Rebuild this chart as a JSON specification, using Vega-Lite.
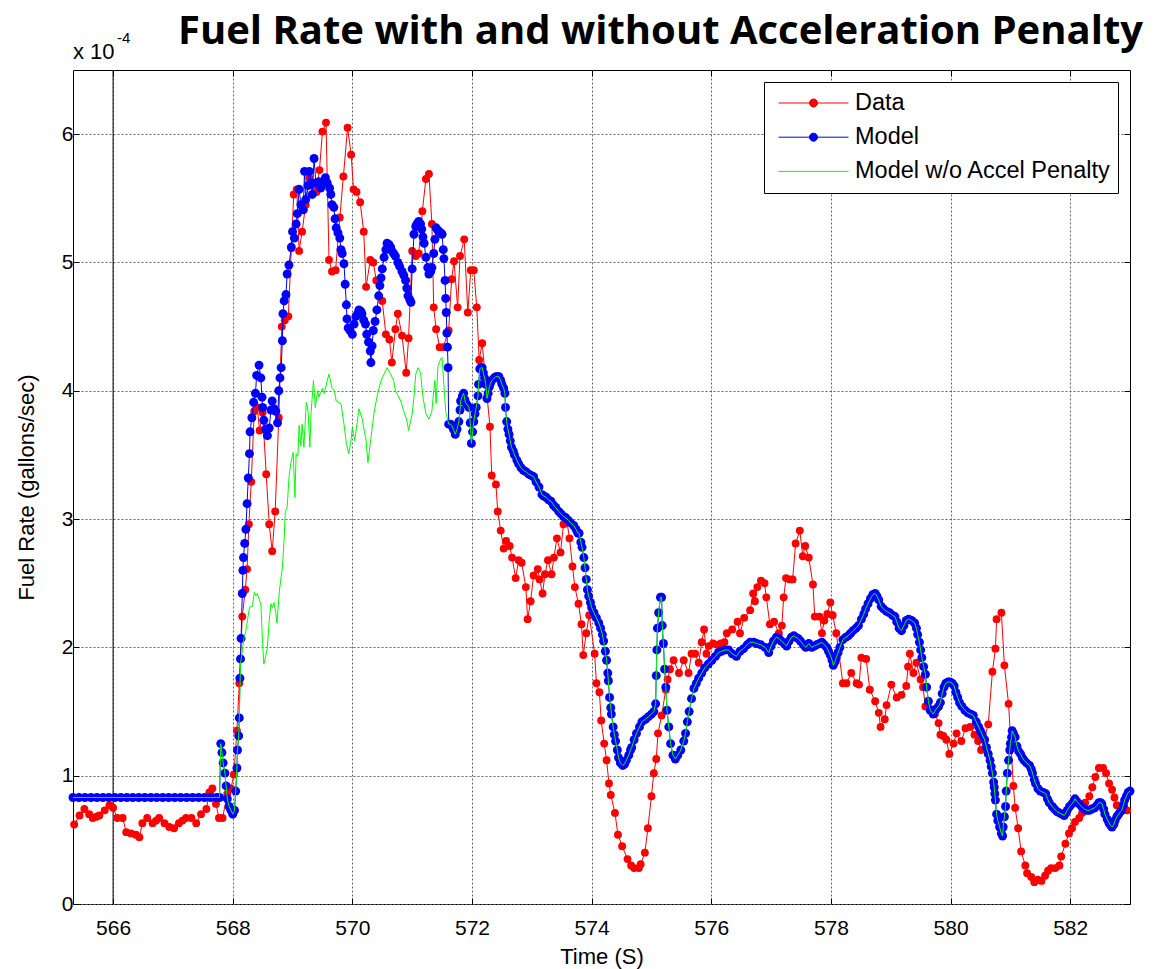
{
"$schema": "https://vega.github.io/schema/vega-lite/v6.json",
"width": 1057, "height": 834,
"autosize": {"type": "none"},
"padding": {"left": 73, "top": 70, "right": 31, "bottom": 65},
"background": "white",
"title": {"text": "Fuel Rate with and without Acceleration Penalty", "anchor": "end", "frame": "group", "font": "Open Sans", "fontSize": 40, "fontWeight": "bold", "color": "black", "offset": -53, "dx": 13, "baseline": "alphabetic"},
"config": {
 "view": {"stroke": "black", "strokeWidth": 1},
 "axis": {"labelFont": "Liberation Sans", "labelFontSize": 21, "labelColor": "black", "titleFont": "Liberation Sans", "titleFontSize": 22, "titleFontWeight": "normal", "titleColor": "black", "tickColor": "black", "tickSize": -6, "domain": false, "gridColor": "#666666", "gridDash": [2, 2], "gridOpacity": 1, "gridWidth": 1},
 "legend": {"orient": "top-right", "offset": 12, "padding": 6, "strokeColor": "black", "fillColor": "white", "symbolSize": 4900, "symbolStrokeWidth": 1, "clipHeight": 30, "rowPadding": 4.2, "labelFont": "Liberation Sans", "labelFontSize": 23.5, "labelColor": "black", "labelOffset": 6, "symbolOffset": 8, "labelLimit": 400, "cornerRadius": 0}
},
"datasets": {
"data": [
{"t":565.35,"v":0.62},{"t":565.44,"v":0.69},{"t":565.52,"v":0.74},{"t":565.60,"v":0.70},{"t":565.66,"v":0.67},{"t":565.72,"v":0.68},{"t":565.77,"v":0.69},{"t":565.86,"v":0.73},{"t":565.94,"v":0.77},{"t":566.00,"v":0.75},
{"t":566.07,"v":0.67},{"t":566.16,"v":0.67},{"t":566.22,"v":0.56},{"t":566.30,"v":0.55},{"t":566.38,"v":0.54},{"t":566.44,"v":0.52},{"t":566.49,"v":0.63},{"t":566.57,"v":0.67},{"t":566.66,"v":0.63},{"t":566.72,"v":0.65},
{"t":566.77,"v":0.67},{"t":566.86,"v":0.63},{"t":566.94,"v":0.60},{"t":567.02,"v":0.59},{"t":567.10,"v":0.63},{"t":567.16,"v":0.65},{"t":567.22,"v":0.67},{"t":567.31,"v":0.67},{"t":567.39,"v":0.63},{"t":567.47,"v":0.70},
{"t":567.56,"v":0.74},{"t":567.61,"v":0.87},{"t":567.66,"v":0.90},{"t":567.72,"v":0.78},{"t":567.77,"v":0.67},{"t":567.83,"v":0.67},{"t":567.91,"v":0.86},{"t":567.97,"v":0.90},{"t":568.02,"v":1.01},{"t":568.07,"v":1.35},
{"t":568.11,"v":1.72},{"t":568.16,"v":2.24},{"t":568.21,"v":2.45},{"t":568.24,"v":2.61},{"t":568.27,"v":2.96},{"t":568.31,"v":3.29},{"t":568.36,"v":3.84},{"t":568.41,"v":3.87},{"t":568.45,"v":3.69},{"t":568.50,"v":3.83},
{"t":568.56,"v":3.35},{"t":568.61,"v":2.96},{"t":568.66,"v":2.75},{"t":568.71,"v":3.06},{"t":568.77,"v":3.79},{"t":568.82,"v":4.50},{"t":568.87,"v":4.55},{"t":568.93,"v":4.58},{"t":568.98,"v":5.11},{"t":569.02,"v":5.53},
{"t":569.07,"v":5.57},{"t":569.11,"v":5.09},{"t":569.16,"v":5.24},{"t":569.22,"v":5.45},{"t":569.28,"v":5.66},{"t":569.34,"v":5.60},{"t":569.40,"v":5.55},{"t":569.45,"v":5.72},{"t":569.50,"v":6.02},{"t":569.56,"v":6.09},
{"t":569.61,"v":5.02},{"t":569.66,"v":4.93},{"t":569.72,"v":4.94},{"t":569.79,"v":5.35},{"t":569.85,"v":5.67},{"t":569.92,"v":6.05},{"t":569.98,"v":5.84},{"t":570.02,"v":5.57},{"t":570.07,"v":5.55},{"t":570.13,"v":5.47},
{"t":570.19,"v":5.24},{"t":570.23,"v":4.81},{"t":570.30,"v":5.02},{"t":570.35,"v":5.00},{"t":570.40,"v":4.86},{"t":570.50,"v":4.70},{"t":570.56,"v":4.44},{"t":570.62,"v":4.40},{"t":570.66,"v":4.22},{"t":570.72,"v":4.48},
{"t":570.76,"v":4.60},{"t":570.83,"v":4.43},{"t":570.90,"v":4.14},{"t":570.94,"v":4.41},{"t":571.00,"v":5.09},{"t":571.06,"v":5.05},{"t":571.11,"v":5.07},{"t":571.17,"v":5.40},{"t":571.23,"v":5.65},{"t":571.28,"v":5.69},
{"t":571.33,"v":5.30},{"t":571.36,"v":4.65},{"t":571.40,"v":4.48},{"t":571.46,"v":4.34},{"t":571.52,"v":4.34},{"t":571.61,"v":4.47},{"t":571.66,"v":4.87},{"t":571.70,"v":5.01},{"t":571.76,"v":4.65},{"t":571.80,"v":5.05},
{"t":571.87,"v":5.18},{"t":571.93,"v":4.61},{"t":571.98,"v":4.94},{"t":572.03,"v":4.94},{"t":572.08,"v":4.65},{"t":572.12,"v":4.24},{"t":572.17,"v":4.37},{"t":572.30,"v":3.72},{"t":572.33,"v":3.34},{"t":572.40,"v":3.27},
{"t":572.43,"v":3.06},{"t":572.48,"v":2.91},{"t":572.53,"v":2.77},{"t":572.57,"v":2.83},{"t":572.63,"v":2.79},{"t":572.67,"v":2.70},{"t":572.73,"v":2.54},{"t":572.78,"v":2.68},{"t":572.83,"v":2.66},{"t":572.90,"v":2.47},
{"t":572.93,"v":2.22},{"t":572.98,"v":2.36},{"t":573.03,"v":2.56},{"t":573.10,"v":2.61},{"t":573.13,"v":2.53},{"t":573.18,"v":2.42},{"t":573.22,"v":2.57},{"t":573.27,"v":2.68},{"t":573.33,"v":2.57},{"t":573.37,"v":2.70},
{"t":573.42,"v":2.85},{"t":573.48,"v":2.74},{"t":573.53,"v":2.96},{"t":573.58,"v":3.00},{"t":573.63,"v":2.85},{"t":573.68,"v":2.63},{"t":573.72,"v":2.47},{"t":573.78,"v":2.34},{"t":573.83,"v":2.18},{"t":573.86,"v":1.94},
{"t":573.91,"v":2.11},{"t":573.96,"v":2.25},{"t":574.05,"v":1.95},{"t":574.08,"v":1.72},{"t":574.13,"v":1.65},{"t":574.16,"v":1.43},{"t":574.21,"v":1.25},{"t":574.25,"v":1.12},{"t":574.29,"v":0.94},{"t":574.32,"v":0.85},
{"t":574.39,"v":0.71},{"t":574.44,"v":0.54},{"t":574.51,"v":0.45},{"t":574.60,"v":0.35},{"t":574.66,"v":0.30},{"t":574.71,"v":0.28},{"t":574.79,"v":0.28},{"t":574.82,"v":0.31},{"t":574.89,"v":0.40},{"t":574.94,"v":0.59},
{"t":575.00,"v":0.84},{"t":575.04,"v":1.02},{"t":575.08,"v":1.13},{"t":575.11,"v":1.33},{"t":575.17,"v":1.47},{"t":575.24,"v":1.67},{"t":575.27,"v":1.75},{"t":575.31,"v":1.83},{"t":575.37,"v":1.90},{"t":575.46,"v":1.80},
{"t":575.54,"v":1.90},{"t":575.62,"v":1.80},{"t":575.67,"v":1.95},{"t":575.73,"v":1.95},{"t":575.79,"v":1.88},{"t":575.84,"v":2.04},{"t":575.88,"v":2.14},{"t":575.92,"v":1.95},{"t":575.96,"v":2.01},{"t":576.03,"v":2.03},
{"t":576.10,"v":2.02},{"t":576.16,"v":2.03},{"t":576.22,"v":2.04},{"t":576.26,"v":2.11},{"t":576.35,"v":2.14},{"t":576.44,"v":2.20},{"t":576.48,"v":2.11},{"t":576.55,"v":2.23},{"t":576.65,"v":2.29},{"t":576.70,"v":2.42},
{"t":576.73,"v":2.36},{"t":576.77,"v":2.47},{"t":576.83,"v":2.52},{"t":576.89,"v":2.50},{"t":576.92,"v":2.39},{"t":576.98,"v":2.18},{"t":577.05,"v":2.20},{"t":577.13,"v":2.11},{"t":577.18,"v":2.17},{"t":577.21,"v":2.39},
{"t":577.25,"v":2.54},{"t":577.31,"v":2.53},{"t":577.36,"v":2.53},{"t":577.41,"v":2.81},{"t":577.48,"v":2.91},{"t":577.53,"v":2.71},{"t":577.57,"v":2.79},{"t":577.63,"v":2.70},{"t":577.70,"v":2.49},{"t":577.73,"v":2.24},
{"t":577.81,"v":2.24},{"t":577.85,"v":2.11},{"t":577.89,"v":2.21},{"t":577.94,"v":2.26},{"t":577.99,"v":2.35},{"t":578.03,"v":2.25},{"t":578.09,"v":2.11},{"t":578.20,"v":1.72},{"t":578.26,"v":1.72},{"t":578.34,"v":1.80},
{"t":578.43,"v":1.72},{"t":578.47,"v":1.71},{"t":578.51,"v":1.92},{"t":578.59,"v":1.91},{"t":578.65,"v":1.67},{"t":578.74,"v":1.58},{"t":578.80,"v":1.49},{"t":578.83,"v":1.38},{"t":578.90,"v":1.44},{"t":578.93,"v":1.55},
{"t":579.01,"v":1.71},{"t":579.10,"v":1.61},{"t":579.18,"v":1.63},{"t":579.26,"v":1.70},{"t":579.29,"v":1.85},{"t":579.32,"v":1.95},{"t":579.38,"v":1.80},{"t":579.43,"v":1.88},{"t":579.50,"v":1.75},{"t":579.54,"v":1.69},
{"t":579.58,"v":1.54},{"t":579.66,"v":1.52},{"t":579.74,"v":1.48},{"t":579.80,"v":1.41},{"t":579.83,"v":1.32},{"t":579.88,"v":1.31},{"t":579.93,"v":1.28},{"t":579.98,"v":1.17},{"t":580.05,"v":1.25},{"t":580.10,"v":1.33},
{"t":580.18,"v":1.27},{"t":580.25,"v":1.37},{"t":580.33,"v":1.38},{"t":580.40,"v":1.32},{"t":580.46,"v":1.27},{"t":580.51,"v":1.20},{"t":580.63,"v":1.40},{"t":580.70,"v":1.81},{"t":580.75,"v":1.99},{"t":580.77,"v":2.22},
{"t":580.85,"v":2.27},{"t":580.90,"v":1.86},{"t":580.97,"v":1.56},{"t":581.05,"v":0.92},{"t":581.08,"v":0.75},{"t":581.13,"v":0.59},{"t":581.18,"v":0.41},{"t":581.25,"v":0.30},{"t":581.28,"v":0.24},{"t":581.35,"v":0.21},
{"t":581.40,"v":0.17},{"t":581.46,"v":0.19},{"t":581.52,"v":0.18},{"t":581.58,"v":0.22},{"t":581.63,"v":0.26},{"t":581.68,"v":0.28},{"t":581.75,"v":0.28},{"t":581.82,"v":0.30},{"t":581.85,"v":0.37},{"t":581.92,"v":0.47},
{"t":581.98,"v":0.55},{"t":582.03,"v":0.59},{"t":582.08,"v":0.64},{"t":582.15,"v":0.67},{"t":582.20,"v":0.71},{"t":582.25,"v":0.79},{"t":582.32,"v":0.84},{"t":582.37,"v":0.91},{"t":582.42,"v":0.99},{"t":582.48,"v":1.06},
{"t":582.55,"v":1.06},{"t":582.60,"v":1.02},{"t":582.65,"v":0.94},{"t":582.70,"v":0.89},{"t":582.74,"v":0.83},{"t":582.78,"v":0.77},{"t":582.85,"v":0.75},{"t":582.90,"v":0.74},{"t":582.95,"v":0.73}
],
"model": [
{"t":565.33,"v":0.83,"s":"b"},{"t":565.43,"v":0.83,"s":"b"},{"t":565.53,"v":0.83,"s":"b"},{"t":565.63,"v":0.83,"s":"b"},{"t":565.73,"v":0.83,"s":"b"},{"t":565.83,"v":0.83,"s":"b"},{"t":565.93,"v":0.83,"s":"b"},{"t":566.03,"v":0.83,"s":"b"},{"t":566.13,"v":0.83,"s":"b"},{"t":566.23,"v":0.83,"s":"b"},
{"t":566.33,"v":0.83,"s":"b"},{"t":566.43,"v":0.83,"s":"b"},{"t":566.53,"v":0.83,"s":"b"},{"t":566.63,"v":0.83,"s":"b"},{"t":566.73,"v":0.83,"s":"b"},{"t":566.83,"v":0.83,"s":"b"},{"t":566.93,"v":0.83,"s":"b"},{"t":567.03,"v":0.83,"s":"b"},{"t":567.13,"v":0.83,"s":"b"},{"t":567.23,"v":0.83,"s":"b"},
{"t":567.33,"v":0.83,"s":"b"},{"t":567.43,"v":0.83,"s":"b"},{"t":567.53,"v":0.83,"s":"b"},{"t":567.63,"v":0.83,"s":"b"},{"t":567.73,"v":0.83,"s":"b"},{"t":567.78,"v":0.83,"s":"b"},
{"t":567.80,"v":1.25,"s":"b"},{"t":567.82,"v":1.18,"s":"b"},{"t":567.84,"v":1.10,"s":"b"},{"t":567.87,"v":1.02,"s":"b"},{"t":567.89,"v":0.92,"s":"b"},{"t":567.91,"v":0.82,"s":"b"},{"t":567.94,"v":0.76,"s":"b"},{"t":567.97,"v":0.73,"s":"b"},{"t":568.00,"v":0.70,"s":"b"},{"t":568.03,"v":0.73,"s":"b"},
{"t":568.05,"v":0.88,"s":"b"},{"t":568.07,"v":1.06,"s":"b"},{"t":568.08,"v":1.20,"s":"b"},{"t":568.10,"v":1.31,"s":"b"},{"t":568.11,"v":1.45,"s":"b"},
{"t":568.12,"v":1.76,"s":"m"},{"t":568.13,"v":1.91,"s":"m"},{"t":568.14,"v":2.07,"s":"m"},{"t":568.16,"v":2.42,"s":"m"},{"t":568.17,"v":2.60,"s":"m"},{"t":568.18,"v":2.70,"s":"m"},{"t":568.20,"v":2.81,"s":"m"},{"t":568.22,"v":2.92,"s":"m"},{"t":568.24,"v":3.12,"s":"m"},{"t":568.26,"v":3.32,"s":"m"},
{"t":568.28,"v":3.51,"s":"m"},{"t":568.29,"v":3.68,"s":"m"},{"t":568.32,"v":3.79,"s":"m"},{"t":568.35,"v":3.91,"s":"m"},{"t":568.38,"v":3.98,"s":"m"},{"t":568.40,"v":4.12,"s":"m"},{"t":568.44,"v":4.20,"s":"m"},{"t":568.47,"v":4.10,"s":"m"},{"t":568.49,"v":3.95,"s":"m"},{"t":568.50,"v":3.87,"s":"m"},
{"t":568.52,"v":3.77,"s":"m"},{"t":568.55,"v":3.70,"s":"m"},{"t":568.58,"v":3.65,"s":"m"},{"t":568.61,"v":3.71,"s":"m"},{"t":568.64,"v":3.85,"s":"m"},{"t":568.66,"v":3.92,"s":"m"},{"t":568.69,"v":3.86,"s":"m"},{"t":568.72,"v":3.84,"s":"m"},{"t":568.75,"v":3.75,"s":"m"},{"t":568.77,"v":4.00,"s":"m"},
{"t":568.79,"v":4.10,"s":"m"},{"t":568.81,"v":4.18,"s":"m"},{"t":568.83,"v":4.39,"s":"m"},{"t":568.84,"v":4.60,"s":"m"},{"t":568.86,"v":4.70,"s":"m"},{"t":568.89,"v":4.75,"s":"m"},{"t":568.91,"v":4.91,"s":"m"},{"t":568.94,"v":4.98,"s":"m"},{"t":568.98,"v":5.12,"s":"m"},{"t":569.00,"v":5.24,"s":"m"},
{"t":569.03,"v":5.19,"s":"m"},{"t":569.06,"v":5.30,"s":"m"},{"t":569.08,"v":5.38,"s":"m"},{"t":569.11,"v":5.57,"s":"m"},{"t":569.14,"v":5.45,"s":"m"},{"t":569.18,"v":5.41,"s":"m"},{"t":569.20,"v":5.71,"s":"m"},{"t":569.22,"v":5.49,"s":"m"},{"t":569.26,"v":5.60,"s":"m"},{"t":569.28,"v":5.71,"s":"m"},
{"t":569.31,"v":5.62,"s":"m"},{"t":569.33,"v":5.53,"s":"m"},{"t":569.36,"v":5.81,"s":"m"},{"t":569.39,"v":5.62,"s":"m"},{"t":569.44,"v":5.63,"s":"m"},{"t":569.47,"v":5.58,"s":"m"},{"t":569.51,"v":5.62,"s":"m"},{"t":569.55,"v":5.66,"s":"m"},{"t":569.58,"v":5.62,"s":"m"},{"t":569.62,"v":5.58,"s":"m"},
{"t":569.64,"v":5.53,"s":"m"},{"t":569.66,"v":5.45,"s":"m"},{"t":569.69,"v":5.43,"s":"m"},{"t":569.71,"v":5.34,"s":"m"},{"t":569.73,"v":5.27,"s":"m"},{"t":569.76,"v":5.23,"s":"m"},{"t":569.79,"v":5.19,"s":"m"},{"t":569.81,"v":5.10,"s":"m"},{"t":569.83,"v":5.07,"s":"m"},{"t":569.86,"v":4.99,"s":"m"},
{"t":569.88,"v":4.83,"s":"m"},{"t":569.90,"v":4.67,"s":"m"},{"t":569.91,"v":4.56,"s":"m"},{"t":569.93,"v":4.49,"s":"m"},{"t":569.96,"v":4.47,"s":"m"},{"t":570.00,"v":4.44,"s":"m"},{"t":570.03,"v":4.52,"s":"m"},{"t":570.06,"v":4.58,"s":"m"},{"t":570.09,"v":4.60,"s":"m"},{"t":570.11,"v":4.63,"s":"m"},
{"t":570.14,"v":4.62,"s":"m"},{"t":570.16,"v":4.60,"s":"m"},{"t":570.19,"v":4.55,"s":"m"},{"t":570.22,"v":4.52,"s":"m"},{"t":570.24,"v":4.44,"s":"m"},{"t":570.27,"v":4.38,"s":"m"},{"t":570.30,"v":4.31,"s":"m"},{"t":570.31,"v":4.22,"s":"m"},{"t":570.33,"v":4.35,"s":"m"},{"t":570.35,"v":4.47,"s":"m"},
{"t":570.38,"v":4.54,"s":"m"},{"t":570.41,"v":4.63,"s":"m"},{"t":570.44,"v":4.74,"s":"m"},{"t":570.46,"v":4.82,"s":"m"},{"t":570.48,"v":4.88,"s":"m"},{"t":570.50,"v":4.95,"s":"m"},{"t":570.53,"v":5.04,"s":"m"},{"t":570.56,"v":5.10,"s":"m"},{"t":570.58,"v":5.15,"s":"m"},{"t":570.61,"v":5.14,"s":"m"},
{"t":570.64,"v":5.12,"s":"m"},{"t":570.66,"v":5.09,"s":"m"},{"t":570.69,"v":5.07,"s":"m"},{"t":570.72,"v":5.05,"s":"m"},{"t":570.76,"v":5.00,"s":"m"},{"t":570.79,"v":4.97,"s":"m"},{"t":570.83,"v":4.93,"s":"m"},{"t":570.86,"v":4.90,"s":"m"},{"t":570.89,"v":4.86,"s":"m"},{"t":570.91,"v":4.80,"s":"m"},
{"t":570.93,"v":4.74,"s":"m"},{"t":570.96,"v":4.71,"s":"m"},{"t":570.98,"v":4.69,"s":"m"},{"t":571.00,"v":4.95,"s":"m"},{"t":571.03,"v":5.22,"s":"m"},{"t":571.06,"v":5.28,"s":"m"},{"t":571.08,"v":5.30,"s":"m"},{"t":571.11,"v":5.32,"s":"m"},{"t":571.14,"v":5.30,"s":"m"},{"t":571.16,"v":5.26,"s":"m"},
{"t":571.18,"v":5.20,"s":"m"},{"t":571.20,"v":5.15,"s":"m"},{"t":571.23,"v":5.04,"s":"m"},{"t":571.26,"v":4.96,"s":"m"},{"t":571.28,"v":4.91,"s":"m"},{"t":571.31,"v":4.93,"s":"m"},{"t":571.33,"v":4.96,"s":"m"},{"t":571.36,"v":5.07,"s":"m"},{"t":571.38,"v":5.18,"s":"m"},{"t":571.40,"v":5.27,"s":"m"},
{"t":571.43,"v":5.25,"s":"m"},{"t":571.45,"v":5.24,"s":"m"},{"t":571.48,"v":5.23,"s":"m"},{"t":571.50,"v":5.22,"s":"m"},{"t":571.52,"v":5.10,"s":"m"},{"t":571.53,"v":5.03,"s":"m"},{"t":571.55,"v":4.86,"s":"m"},{"t":571.56,"v":4.72,"s":"m"},{"t":571.57,"v":4.61,"s":"m"},{"t":571.58,"v":4.45,"s":"m"},
{"t":571.59,"v":4.34,"s":"m"},{"t":571.60,"v":4.18,"s":"m"},
{"t":568.13,"v":1.87,"s":"g"},{"t":568.16,"v":1.97,"s":"g"},{"t":568.19,"v":2.08,"s":"g"},{"t":568.22,"v":2.13,"s":"g"},{"t":568.25,"v":2.22,"s":"g"},{"t":568.28,"v":2.31,"s":"g"},{"t":568.31,"v":2.32,"s":"g"},{"t":568.33,"v":2.32,"s":"g"},{"t":568.36,"v":2.43,"s":"g"},{"t":568.39,"v":2.40,"s":"g"},
{"t":568.41,"v":2.42,"s":"g"},{"t":568.44,"v":2.38,"s":"g"},{"t":568.47,"v":2.34,"s":"g"},{"t":568.50,"v":2.03,"s":"g"},{"t":568.52,"v":1.87,"s":"g"},{"t":568.55,"v":1.93,"s":"g"},{"t":568.58,"v":2.00,"s":"g"},{"t":568.61,"v":2.21,"s":"g"},{"t":568.64,"v":2.34,"s":"g"},{"t":568.66,"v":2.31,"s":"g"},
{"t":568.69,"v":2.35,"s":"g"},{"t":568.72,"v":2.27,"s":"g"},{"t":568.74,"v":2.19,"s":"g"},{"t":568.78,"v":2.44,"s":"g"},{"t":568.81,"v":2.55,"s":"g"},{"t":568.83,"v":2.62,"s":"g"},{"t":568.86,"v":2.85,"s":"g"},{"t":568.88,"v":3.06,"s":"g"},{"t":568.91,"v":3.09,"s":"g"},{"t":568.94,"v":3.32,"s":"g"},
{"t":568.97,"v":3.43,"s":"g"},{"t":569.01,"v":3.52,"s":"g"},{"t":569.04,"v":3.17,"s":"g"},{"t":569.06,"v":3.51,"s":"g"},{"t":569.09,"v":3.49,"s":"g"},{"t":569.11,"v":3.73,"s":"g"},{"t":569.14,"v":3.57,"s":"g"},{"t":569.16,"v":3.74,"s":"g"},{"t":569.19,"v":3.56,"s":"g"},{"t":569.23,"v":3.91,"s":"g"},
{"t":569.26,"v":3.84,"s":"g"},{"t":569.29,"v":3.56,"s":"g"},{"t":569.31,"v":3.83,"s":"g"},{"t":569.35,"v":4.08,"s":"g"},{"t":569.38,"v":3.87,"s":"g"},{"t":569.42,"v":4.00,"s":"g"},{"t":569.44,"v":3.95,"s":"g"},{"t":569.50,"v":4.02,"s":"g"},{"t":569.53,"v":3.98,"s":"g"},{"t":569.58,"v":4.08,"s":"g"},
{"t":569.61,"v":4.13,"s":"g"},{"t":569.66,"v":4.02,"s":"g"},{"t":569.70,"v":4.00,"s":"g"},{"t":569.73,"v":3.92,"s":"g"},{"t":569.81,"v":3.90,"s":"g"},{"t":569.86,"v":3.74,"s":"g"},{"t":569.90,"v":3.59,"s":"g"},{"t":569.94,"v":3.51,"s":"g"},{"t":569.97,"v":3.59,"s":"g"},{"t":570.00,"v":3.71,"s":"g"},
{"t":570.04,"v":3.61,"s":"g"},{"t":570.11,"v":3.86,"s":"g"},{"t":570.16,"v":3.79,"s":"g"},{"t":570.23,"v":3.61,"s":"g"},{"t":570.26,"v":3.44,"s":"g"},{"t":570.31,"v":3.63,"s":"g"},{"t":570.36,"v":3.82,"s":"g"},{"t":570.41,"v":3.95,"s":"g"},{"t":570.48,"v":4.08,"s":"g"},{"t":570.53,"v":4.13,"s":"g"},
{"t":570.58,"v":4.18,"s":"g"},{"t":570.64,"v":4.13,"s":"g"},{"t":570.69,"v":4.08,"s":"g"},{"t":570.72,"v":4.00,"s":"g"},{"t":570.81,"v":3.92,"s":"g"},{"t":570.86,"v":3.84,"s":"g"},{"t":570.91,"v":3.77,"s":"g"},{"t":570.94,"v":3.69,"s":"g"},{"t":571.00,"v":3.82,"s":"g"},{"t":571.03,"v":3.95,"s":"g"},
{"t":571.06,"v":4.13,"s":"g"},{"t":571.10,"v":4.18,"s":"g"},{"t":571.14,"v":4.14,"s":"g"},{"t":571.18,"v":3.95,"s":"g"},{"t":571.23,"v":3.82,"s":"g"},{"t":571.28,"v":3.78,"s":"g"},{"t":571.33,"v":3.84,"s":"g"},{"t":571.36,"v":4.00,"s":"g"},{"t":571.38,"v":4.08,"s":"g"},{"t":571.40,"v":3.90,"s":"g"},
{"t":571.43,"v":4.19,"s":"g"},{"t":571.48,"v":4.25,"s":"g"},{"t":571.50,"v":4.26,"s":"g"},{"t":571.53,"v":4.05,"s":"g"},{"t":571.56,"v":3.84,"s":"g"},
{"t":571.61,"v":3.74,"s":"b"},{"t":571.64,"v":3.74,"s":"b"},{"t":571.66,"v":3.73,"s":"b"},{"t":571.69,"v":3.70,"s":"b"},{"t":571.72,"v":3.66,"s":"b"},{"t":571.75,"v":3.70,"s":"b"},{"t":571.78,"v":3.76,"s":"b"},{"t":571.80,"v":3.85,"s":"b"},{"t":571.81,"v":3.92,"s":"b"},{"t":571.84,"v":3.96,"s":"b"},
{"t":571.86,"v":3.98,"s":"b"},{"t":571.88,"v":3.93,"s":"b"},{"t":571.89,"v":3.91,"s":"b"},{"t":571.92,"v":3.89,"s":"b"},{"t":571.95,"v":3.87,"s":"b"},{"t":571.97,"v":3.75,"s":"b"},{"t":571.99,"v":3.59,"s":"b"},{"t":572.01,"v":3.68,"s":"b"},{"t":572.03,"v":3.76,"s":"b"},{"t":572.05,"v":3.82,"s":"b"},
{"t":572.07,"v":3.87,"s":"b"},{"t":572.10,"v":3.96,"s":"b"},{"t":572.11,"v":4.05,"s":"b"},{"t":572.13,"v":4.17,"s":"b"},{"t":572.15,"v":4.18,"s":"b"},{"t":572.17,"v":4.18,"s":"b"},{"t":572.19,"v":4.14,"s":"b"},{"t":572.21,"v":4.10,"s":"b"},{"t":572.23,"v":4.05,"s":"b"},{"t":572.25,"v":3.94,"s":"b"},
{"t":572.27,"v":3.98,"s":"b"},{"t":572.29,"v":4.03,"s":"b"},{"t":572.31,"v":4.06,"s":"b"},{"t":572.33,"v":4.08,"s":"b"},{"t":572.37,"v":4.10,"s":"b"},{"t":572.40,"v":4.11,"s":"b"},{"t":572.43,"v":4.11,"s":"b"},{"t":572.45,"v":4.11,"s":"b"},{"t":572.48,"v":4.08,"s":"b"},{"t":572.50,"v":4.05,"s":"b"},
{"t":572.53,"v":4.02,"s":"b"},{"t":572.55,"v":3.98,"s":"b"},{"t":572.56,"v":3.87,"s":"b"},{"t":572.58,"v":3.76,"s":"b"},{"t":572.60,"v":3.70,"s":"b"},{"t":572.62,"v":3.66,"s":"b"},{"t":572.64,"v":3.61,"s":"b"},{"t":572.66,"v":3.56,"s":"b"},{"t":572.69,"v":3.53,"s":"b"},{"t":572.71,"v":3.50,"s":"b"},
{"t":572.75,"v":3.46,"s":"b"},{"t":572.78,"v":3.43,"s":"b"},{"t":572.82,"v":3.40,"s":"b"},{"t":572.86,"v":3.38,"s":"b"},{"t":572.90,"v":3.37,"s":"b"},{"t":572.95,"v":3.35,"s":"b"},{"t":572.99,"v":3.34,"s":"b"},{"t":573.03,"v":3.33,"s":"b"},{"t":573.07,"v":3.29,"s":"b"},{"t":573.12,"v":3.25,"s":"b"},
{"t":573.17,"v":3.19,"s":"b"},{"t":573.20,"v":3.18,"s":"b"},{"t":573.24,"v":3.17,"s":"b"},{"t":573.28,"v":3.15,"s":"b"},{"t":573.32,"v":3.14,"s":"b"},{"t":573.36,"v":3.11,"s":"b"},{"t":573.40,"v":3.09,"s":"b"},{"t":573.45,"v":3.06,"s":"b"},{"t":573.49,"v":3.04,"s":"b"},{"t":573.53,"v":3.02,"s":"b"},
{"t":573.57,"v":3.01,"s":"b"},{"t":573.61,"v":2.99,"s":"b"},{"t":573.65,"v":2.97,"s":"b"},{"t":573.70,"v":2.95,"s":"b"},{"t":573.74,"v":2.92,"s":"b"},{"t":573.77,"v":2.89,"s":"b"},{"t":573.79,"v":2.89,"s":"b"},{"t":573.82,"v":2.82,"s":"b"},{"t":573.84,"v":2.78,"s":"b"},{"t":573.87,"v":2.70,"s":"b"},
{"t":573.89,"v":2.62,"s":"b"},{"t":573.91,"v":2.53,"s":"b"},{"t":573.93,"v":2.45,"s":"b"},{"t":573.95,"v":2.40,"s":"b"},{"t":573.98,"v":2.35,"s":"b"},{"t":574.00,"v":2.31,"s":"b"},{"t":574.04,"v":2.27,"s":"b"},{"t":574.08,"v":2.23,"s":"b"},{"t":574.12,"v":2.19,"s":"b"},{"t":574.15,"v":2.15,"s":"b"},
{"t":574.18,"v":2.10,"s":"b"},{"t":574.20,"v":2.05,"s":"b"},{"t":574.23,"v":1.97,"s":"b"},{"t":574.25,"v":1.90,"s":"b"},{"t":574.27,"v":1.80,"s":"b"},{"t":574.28,"v":1.74,"s":"b"},{"t":574.30,"v":1.61,"s":"b"},{"t":574.32,"v":1.53,"s":"b"},{"t":574.33,"v":1.48,"s":"b"},{"t":574.36,"v":1.38,"s":"b"},
{"t":574.38,"v":1.32,"s":"b"},{"t":574.40,"v":1.27,"s":"b"},{"t":574.43,"v":1.20,"s":"b"},{"t":574.45,"v":1.14,"s":"b"},{"t":574.48,"v":1.10,"s":"b"},{"t":574.52,"v":1.08,"s":"b"},{"t":574.55,"v":1.09,"s":"b"},{"t":574.58,"v":1.12,"s":"b"},{"t":574.62,"v":1.16,"s":"b"},{"t":574.65,"v":1.20,"s":"b"},
{"t":574.67,"v":1.22,"s":"b"},{"t":574.71,"v":1.28,"s":"b"},{"t":574.75,"v":1.33,"s":"b"},{"t":574.80,"v":1.38,"s":"b"},{"t":574.84,"v":1.42,"s":"b"},{"t":574.90,"v":1.44,"s":"b"},{"t":574.95,"v":1.46,"s":"b"},{"t":575.00,"v":1.48,"s":"b"},{"t":575.04,"v":1.50,"s":"b"},{"t":575.07,"v":1.56,"s":"b"},
{"t":575.08,"v":1.78,"s":"b"},{"t":575.09,"v":1.98,"s":"b"},{"t":575.10,"v":2.15,"s":"b"},{"t":575.12,"v":2.27,"s":"b"},{"t":575.15,"v":2.39,"s":"b"},{"t":575.17,"v":2.39,"s":"b"},{"t":575.18,"v":2.17,"s":"b"},{"t":575.20,"v":2.03,"s":"b"},{"t":575.22,"v":1.83,"s":"b"},{"t":575.24,"v":1.69,"s":"b"},
{"t":575.26,"v":1.51,"s":"b"},{"t":575.29,"v":1.38,"s":"b"},{"t":575.32,"v":1.25,"s":"b"},{"t":575.36,"v":1.16,"s":"b"},{"t":575.40,"v":1.13,"s":"b"},{"t":575.44,"v":1.16,"s":"b"},{"t":575.49,"v":1.20,"s":"b"},{"t":575.54,"v":1.27,"s":"b"},{"t":575.57,"v":1.33,"s":"b"},{"t":575.60,"v":1.42,"s":"b"},
{"t":575.63,"v":1.50,"s":"b"},{"t":575.67,"v":1.60,"s":"b"},{"t":575.71,"v":1.68,"s":"b"},{"t":575.75,"v":1.72,"s":"b"},{"t":575.79,"v":1.76,"s":"b"},{"t":575.84,"v":1.80,"s":"b"},{"t":575.89,"v":1.84,"s":"b"},{"t":575.95,"v":1.87,"s":"b"},{"t":576.01,"v":1.90,"s":"b"},{"t":576.07,"v":1.93,"s":"b"},
{"t":576.12,"v":1.96,"s":"b"},{"t":576.17,"v":1.97,"s":"b"},{"t":576.23,"v":1.98,"s":"b"},{"t":576.29,"v":1.98,"s":"b"},{"t":576.35,"v":1.95,"s":"b"},{"t":576.42,"v":1.93,"s":"b"},{"t":576.48,"v":1.97,"s":"b"},{"t":576.54,"v":1.99,"s":"b"},{"t":576.60,"v":2.02,"s":"b"},{"t":576.65,"v":2.04,"s":"b"},
{"t":576.71,"v":2.04,"s":"b"},{"t":576.76,"v":2.03,"s":"b"},{"t":576.83,"v":2.02,"s":"b"},{"t":576.90,"v":2.00,"s":"b"},{"t":576.96,"v":1.96,"s":"b"},{"t":577.00,"v":2.01,"s":"b"},{"t":577.04,"v":2.05,"s":"b"},{"t":577.09,"v":2.08,"s":"b"},{"t":577.13,"v":2.07,"s":"b"},{"t":577.17,"v":2.05,"s":"b"},
{"t":577.22,"v":2.03,"s":"b"},{"t":577.26,"v":2.01,"s":"b"},{"t":577.30,"v":2.05,"s":"b"},{"t":577.34,"v":2.08,"s":"b"},{"t":577.38,"v":2.09,"s":"b"},{"t":577.41,"v":2.08,"s":"b"},{"t":577.45,"v":2.07,"s":"b"},{"t":577.49,"v":2.05,"s":"b"},{"t":577.54,"v":2.02,"s":"b"},{"t":577.58,"v":2.00,"s":"b"},
{"t":577.63,"v":2.03,"s":"b"},{"t":577.68,"v":2.00,"s":"b"},{"t":577.72,"v":2.01,"s":"b"},{"t":577.76,"v":2.02,"s":"b"},{"t":577.81,"v":2.03,"s":"b"},{"t":577.85,"v":2.04,"s":"b"},{"t":577.89,"v":2.02,"s":"b"},{"t":577.93,"v":2.00,"s":"b"},{"t":577.96,"v":1.97,"s":"b"},{"t":577.99,"v":1.94,"s":"b"},
{"t":578.02,"v":1.90,"s":"b"},{"t":578.04,"v":1.86,"s":"b"},{"t":578.07,"v":1.89,"s":"b"},{"t":578.09,"v":1.92,"s":"b"},{"t":578.12,"v":1.96,"s":"b"},{"t":578.15,"v":2.00,"s":"b"},{"t":578.20,"v":2.06,"s":"b"},{"t":578.25,"v":2.08,"s":"b"},{"t":578.29,"v":2.09,"s":"b"},{"t":578.33,"v":2.11,"s":"b"},
{"t":578.37,"v":2.13,"s":"b"},{"t":578.42,"v":2.15,"s":"b"},{"t":578.46,"v":2.17,"s":"b"},{"t":578.51,"v":2.22,"s":"b"},{"t":578.55,"v":2.26,"s":"b"},{"t":578.58,"v":2.30,"s":"b"},{"t":578.62,"v":2.34,"s":"b"},{"t":578.66,"v":2.38,"s":"b"},{"t":578.70,"v":2.41,"s":"b"},{"t":578.74,"v":2.42,"s":"b"},
{"t":578.77,"v":2.40,"s":"b"},{"t":578.80,"v":2.37,"s":"b"},{"t":578.84,"v":2.32,"s":"b"},{"t":578.88,"v":2.30,"s":"b"},{"t":578.93,"v":2.28,"s":"b"},{"t":578.98,"v":2.27,"s":"b"},{"t":579.03,"v":2.25,"s":"b"},{"t":579.07,"v":2.24,"s":"b"},{"t":579.10,"v":2.20,"s":"b"},{"t":579.14,"v":2.15,"s":"b"},
{"t":579.18,"v":2.13,"s":"b"},{"t":579.22,"v":2.17,"s":"b"},{"t":579.26,"v":2.21,"s":"b"},{"t":579.30,"v":2.22,"s":"b"},{"t":579.35,"v":2.21,"s":"b"},{"t":579.40,"v":2.19,"s":"b"},{"t":579.43,"v":2.15,"s":"b"},{"t":579.45,"v":2.10,"s":"b"},{"t":579.48,"v":2.04,"s":"b"},{"t":579.50,"v":1.98,"s":"b"},
{"t":579.52,"v":1.92,"s":"b"},{"t":579.55,"v":1.85,"s":"b"},{"t":579.58,"v":1.79,"s":"b"},{"t":579.60,"v":1.69,"s":"b"},{"t":579.63,"v":1.58,"s":"b"},{"t":579.66,"v":1.51,"s":"b"},{"t":579.71,"v":1.48,"s":"b"},{"t":579.76,"v":1.52,"s":"b"},{"t":579.80,"v":1.54,"s":"b"},{"t":579.83,"v":1.57,"s":"b"},
{"t":579.86,"v":1.64,"s":"b"},{"t":579.89,"v":1.69,"s":"b"},{"t":579.92,"v":1.72,"s":"b"},{"t":579.96,"v":1.73,"s":"b"},{"t":579.99,"v":1.73,"s":"b"},{"t":580.03,"v":1.72,"s":"b"},{"t":580.06,"v":1.70,"s":"b"},{"t":580.09,"v":1.65,"s":"b"},{"t":580.12,"v":1.61,"s":"b"},{"t":580.15,"v":1.57,"s":"b"},
{"t":580.19,"v":1.54,"s":"b"},{"t":580.24,"v":1.51,"s":"b"},{"t":580.29,"v":1.49,"s":"b"},{"t":580.34,"v":1.48,"s":"b"},{"t":580.38,"v":1.47,"s":"b"},{"t":580.43,"v":1.42,"s":"b"},{"t":580.47,"v":1.38,"s":"b"},{"t":580.50,"v":1.35,"s":"b"},{"t":580.53,"v":1.32,"s":"b"},{"t":580.57,"v":1.28,"s":"b"},
{"t":580.60,"v":1.22,"s":"b"},{"t":580.63,"v":1.17,"s":"b"},{"t":580.66,"v":1.12,"s":"b"},{"t":580.68,"v":1.07,"s":"b"},{"t":580.70,"v":1.02,"s":"b"},{"t":580.72,"v":0.95,"s":"b"},{"t":580.73,"v":0.91,"s":"b"},{"t":580.74,"v":0.86,"s":"b"},{"t":580.75,"v":0.81,"s":"b"},{"t":580.77,"v":0.70,"s":"b"},
{"t":580.79,"v":0.65,"s":"b"},{"t":580.82,"v":0.60,"s":"b"},{"t":580.85,"v":0.55,"s":"b"},{"t":580.87,"v":0.53,"s":"b"},{"t":580.88,"v":0.60,"s":"b"},{"t":580.90,"v":0.68,"s":"b"},{"t":580.92,"v":0.76,"s":"b"},{"t":580.93,"v":0.88,"s":"b"},{"t":580.95,"v":1.02,"s":"b"},{"t":580.97,"v":1.12,"s":"b"},
{"t":580.99,"v":1.20,"s":"b"},{"t":581.00,"v":1.25,"s":"b"},{"t":581.02,"v":1.30,"s":"b"},{"t":581.03,"v":1.35,"s":"b"},{"t":581.05,"v":1.33,"s":"b"},{"t":581.08,"v":1.30,"s":"b"},{"t":581.11,"v":1.23,"s":"b"},{"t":581.14,"v":1.19,"s":"b"},{"t":581.17,"v":1.17,"s":"b"},{"t":581.20,"v":1.14,"s":"b"},
{"t":581.23,"v":1.12,"s":"b"},{"t":581.27,"v":1.10,"s":"b"},{"t":581.32,"v":1.08,"s":"b"},{"t":581.35,"v":1.05,"s":"b"},{"t":581.37,"v":1.02,"s":"b"},{"t":581.40,"v":0.97,"s":"b"},{"t":581.42,"v":0.94,"s":"b"},{"t":581.46,"v":0.90,"s":"b"},{"t":581.50,"v":0.88,"s":"b"},{"t":581.55,"v":0.87,"s":"b"},
{"t":581.59,"v":0.86,"s":"b"},{"t":581.62,"v":0.82,"s":"b"},{"t":581.65,"v":0.79,"s":"b"},{"t":581.70,"v":0.76,"s":"b"},{"t":581.74,"v":0.74,"s":"b"},{"t":581.78,"v":0.72,"s":"b"},{"t":581.82,"v":0.71,"s":"b"},{"t":581.86,"v":0.70,"s":"b"},{"t":581.90,"v":0.69,"s":"b"},{"t":581.93,"v":0.71,"s":"b"},
{"t":581.95,"v":0.73,"s":"b"},{"t":581.99,"v":0.76,"s":"b"},{"t":582.03,"v":0.78,"s":"b"},{"t":582.06,"v":0.80,"s":"b"},{"t":582.08,"v":0.82,"s":"b"},{"t":582.11,"v":0.80,"s":"b"},{"t":582.15,"v":0.78,"s":"b"},{"t":582.19,"v":0.76,"s":"b"},{"t":582.24,"v":0.74,"s":"b"},{"t":582.28,"v":0.73,"s":"b"},
{"t":582.32,"v":0.73,"s":"b"},{"t":582.36,"v":0.74,"s":"b"},{"t":582.41,"v":0.75,"s":"b"},{"t":582.45,"v":0.77,"s":"b"},{"t":582.48,"v":0.79,"s":"b"},{"t":582.51,"v":0.79,"s":"b"},{"t":582.53,"v":0.78,"s":"b"},{"t":582.56,"v":0.74,"s":"b"},{"t":582.58,"v":0.70,"s":"b"},{"t":582.62,"v":0.66,"s":"b"},
{"t":582.65,"v":0.63,"s":"b"},{"t":582.68,"v":0.61,"s":"b"},{"t":582.70,"v":0.60,"s":"b"},{"t":582.73,"v":0.62,"s":"b"},{"t":582.75,"v":0.65,"s":"b"},{"t":582.78,"v":0.68,"s":"b"},{"t":582.81,"v":0.70,"s":"b"},{"t":582.84,"v":0.72,"s":"b"},{"t":582.86,"v":0.73,"s":"b"},{"t":582.89,"v":0.77,"s":"b"},
{"t":582.91,"v":0.81,"s":"b"},{"t":582.94,"v":0.84,"s":"b"},{"t":582.97,"v":0.87,"s":"b"},{"t":583.00,"v":0.88,"s":"b"}
],
"series": [{"s":"Data"},{"s":"Model"},{"s":"Model w/o Accel Penalty"}]
},
"layer": [
{
 "data": {"values": [{"t": 566}]},
 "mark": {"type": "rule", "color": "black", "strokeWidth": 1},
 "encoding": {
  "x": {"field": "t", "type": "quantitative", "scale": {"domain": [565.33, 583], "nice": false, "zero": false},
   "axis": {"orient": "top", "labels": false, "grid": false, "title": null, "values": [566,568,570,572,574,576,578,580,582]}}
 }
},
{
 "data": {"name": "data"},
 "mark": {"type": "line", "color": "#ff0000", "strokeWidth": 1},
 "encoding": {
  "x": {"field": "t", "type": "quantitative", "scale": {"domain": [565.33, 583], "nice": false, "zero": false},
   "axis": {"orient": "bottom", "title": "Time (S)", "values": [566,568,570,572,574,576,578,580,582], "grid": true, "labelPadding": 19, "titlePadding": 8}},
  "y": {"field": "v", "type": "quantitative", "scale": {"domain": [0, 6.5], "nice": false, "zero": false},
   "axis": {"orient": "left", "title": "Fuel Rate (gallons/sec)", "values": [0,1,2,3,4,5,6], "grid": true, "labelPadding": 6, "titlePadding": 23}}
 }
},
{
 "data": {"name": "data"},
 "mark": {"type": "point", "filled": true, "color": "#ff0000", "size": 62, "opacity": 1},
 "encoding": {
  "x": {"field": "t", "type": "quantitative", "scale": {"domain": [565.33, 583], "nice": false, "zero": false}, "axis": null},
  "y": {"field": "v", "type": "quantitative", "scale": {"domain": [0, 6.5], "nice": false, "zero": false}, "axis": null}
 }
},
{
 "data": {"name": "model"},
 "transform": [{"filter": "datum.s != 'g'"}],
 "mark": {"type": "line", "color": "#0000ff", "strokeWidth": 1},
 "encoding": {
  "x": {"field": "t", "type": "quantitative", "scale": {"domain": [565.33, 583], "nice": false, "zero": false}, "axis": null},
  "y": {"field": "v", "type": "quantitative", "scale": {"domain": [0, 6.5], "nice": false, "zero": false}, "axis": null}
 }
},
{
 "data": {"name": "model"},
 "transform": [{"filter": "datum.s != 'g'"}],
 "mark": {"type": "point", "filled": true, "color": "#0000ff", "size": 80, "opacity": 1},
 "encoding": {
  "x": {"field": "t", "type": "quantitative", "scale": {"domain": [565.33, 583], "nice": false, "zero": false}, "axis": null},
  "y": {"field": "v", "type": "quantitative", "scale": {"domain": [0, 6.5], "nice": false, "zero": false}, "axis": null}
 }
},
{
 "data": {"name": "model"},
 "transform": [{"filter": "datum.s != 'm'"}],
 "mark": {"type": "line", "color": "#00ff00", "strokeWidth": 1},
 "encoding": {
  "x": {"field": "t", "type": "quantitative", "scale": {"domain": [565.33, 583], "nice": false, "zero": false}, "axis": null},
  "y": {"field": "v", "type": "quantitative", "scale": {"domain": [0, 6.5], "nice": false, "zero": false}, "axis": null}
 }
},
{
 "data": {"values": [{"t": 565.33, "v": 6.5, "lab": "x 10"}]},
 "mark": {"type": "text", "align": "left", "baseline": "middle", "dy": -18, "font": "Liberation Sans", "fontSize": 22, "color": "black"},
 "encoding": {
  "x": {"field": "t", "type": "quantitative", "scale": {"domain": [565.33, 583], "nice": false, "zero": false}, "axis": null},
  "y": {"field": "v", "type": "quantitative", "scale": {"domain": [0, 6.5], "nice": false, "zero": false},
   "axis": {"orient": "right", "labels": false, "grid": false, "title": null, "values": [0,1,2,3,4,5,6]}},
  "text": {"field": "lab"}
 }
},
{
 "data": {"values": [{"t": 565.33, "v": 6.5, "lab": "-4"}]},
 "mark": {"type": "text", "align": "left", "baseline": "middle", "dx": 44, "dy": -32, "font": "Liberation Sans", "fontSize": 15, "color": "black"},
 "encoding": {
  "x": {"field": "t", "type": "quantitative", "scale": {"domain": [565.33, 583], "nice": false, "zero": false}, "axis": null},
  "y": {"field": "v", "type": "quantitative", "scale": {"domain": [0, 6.5], "nice": false, "zero": false}, "axis": null},
  "text": {"field": "lab"}
 }
},
{
 "data": {"name": "series"},
 "transform": [{"filter": "datum.s == 'none'"}],
 "mark": {"type": "point", "filled": true, "opacity": 1, "strokeWidth": 1},
 "encoding": {
  "fill": {"field": "s", "type": "nominal", "scale": {"domain": ["Data", "Model", "Model w/o Accel Penalty"], "range": ["#ff0000", "#0000ff", "#00ff00"]}, "legend": {"title": null}},
  "stroke": {"field": "s", "type": "nominal", "scale": {"domain": ["Data", "Model", "Model w/o Accel Penalty"], "range": ["#ff0000", "#0000ff", "#00ff00"]}, "legend": {"title": null}},
  "shape": {"field": "s", "type": "nominal", "scale": {"domain": ["Data", "Model", "Model w/o Accel Penalty"], "range": ["M-1,0H1M0.115,0A0.115,0.115,0,1,1,-0.115,0A0.115,0.115,0,1,1,0.115,0Z", "M-1,0H1M0.115,0A0.115,0.115,0,1,1,-0.115,0A0.115,0.115,0,1,1,0.115,0Z", "M-1,0H1"]}, "legend": {"title": null}}
 }
}
],
"resolve": {"axis": {"x": "independent", "y": "independent"}}
}
